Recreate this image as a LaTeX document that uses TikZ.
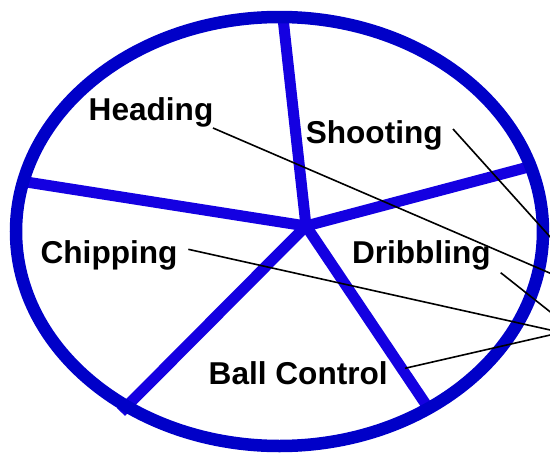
\documentclass[tikz,border=0pt]{standalone}
\usepackage{fontspec}
\setmainfont{Liberation Sans}
\definecolor{ringblue}{RGB}{0,0,200}
\definecolor{spokeblue}{RGB}{20,0,225}
\begin{document}
\begin{tikzpicture}[x=1pt,y=-1pt,
  ring/.style={draw=ringblue,line width=12.5pt},
  spoke/.style={draw=spokeblue,line width=11pt},
  lbl/.style={font=\fontsize{31.6}{38}\selectfont\bfseries,anchor=base west,inner sep=0pt,text=black},
  leader/.style={draw=black,line width=1.6pt}]
\useasboundingbox (0,0) rectangle (550,453);
\fill[white] (0,0) rectangle (550,453);
\begin{scope}
\clip (0,0) rectangle (550,453);
% spokes
\coordinate (hub) at (306,226);
\coordinate (sTop) at (283,18);
\coordinate (sLeft) at (20,181);
\coordinate (sRight) at (536,165);
\coordinate (sLL) at (121,412);
\coordinate (sLR) at (431,412);
\draw[spoke] (hub) -- (sTop);
\draw[spoke] (hub) -- (sLeft);
\draw[spoke] (hub) -- (sRight);
\draw[spoke] (hub) -- (sLL);
\draw[spoke] (hub) -- (sLR);
\fill[spokeblue] (hub) circle (6.5pt);
% ring
\draw[ring] (279.5,231.5) ellipse [x radius=263.5pt, y radius=214.5pt];
% labels
\node[lbl] (heading) at (88.5,120) {Heading};
\node[lbl] (shooting) at (305.6,143) {Shooting};
\node[lbl] (chipping) at (40.4,263) {Chipping};
\node[lbl] (dribbling) at (351.8,263) {Dribbling};
\node[lbl] (ball) at (208.5,384) {Ball Control};
% leader lines
\coordinate (hS) at (213,128);
\coordinate (hE) at (552,274);
\coordinate (shS) at (453,129);
\coordinate (shE) at (552,239);
\coordinate (dS) at (500.7,272.7);
\coordinate (dE) at (552,313.3);
\coordinate (cS) at (188.3,249.3);
\coordinate (cE) at (552,330.4);
\coordinate (bS) at (405,368.3);
\coordinate (bE) at (552,334.6);
\draw[leader] (hS) -- (hE);
\draw[leader] (shS) -- (shE);
\draw[leader] (dS) -- (dE);
\draw[leader] (cS) -- (cE);
\draw[leader] (bS) -- (bE);
\end{scope}
\end{tikzpicture}
\end{document}
